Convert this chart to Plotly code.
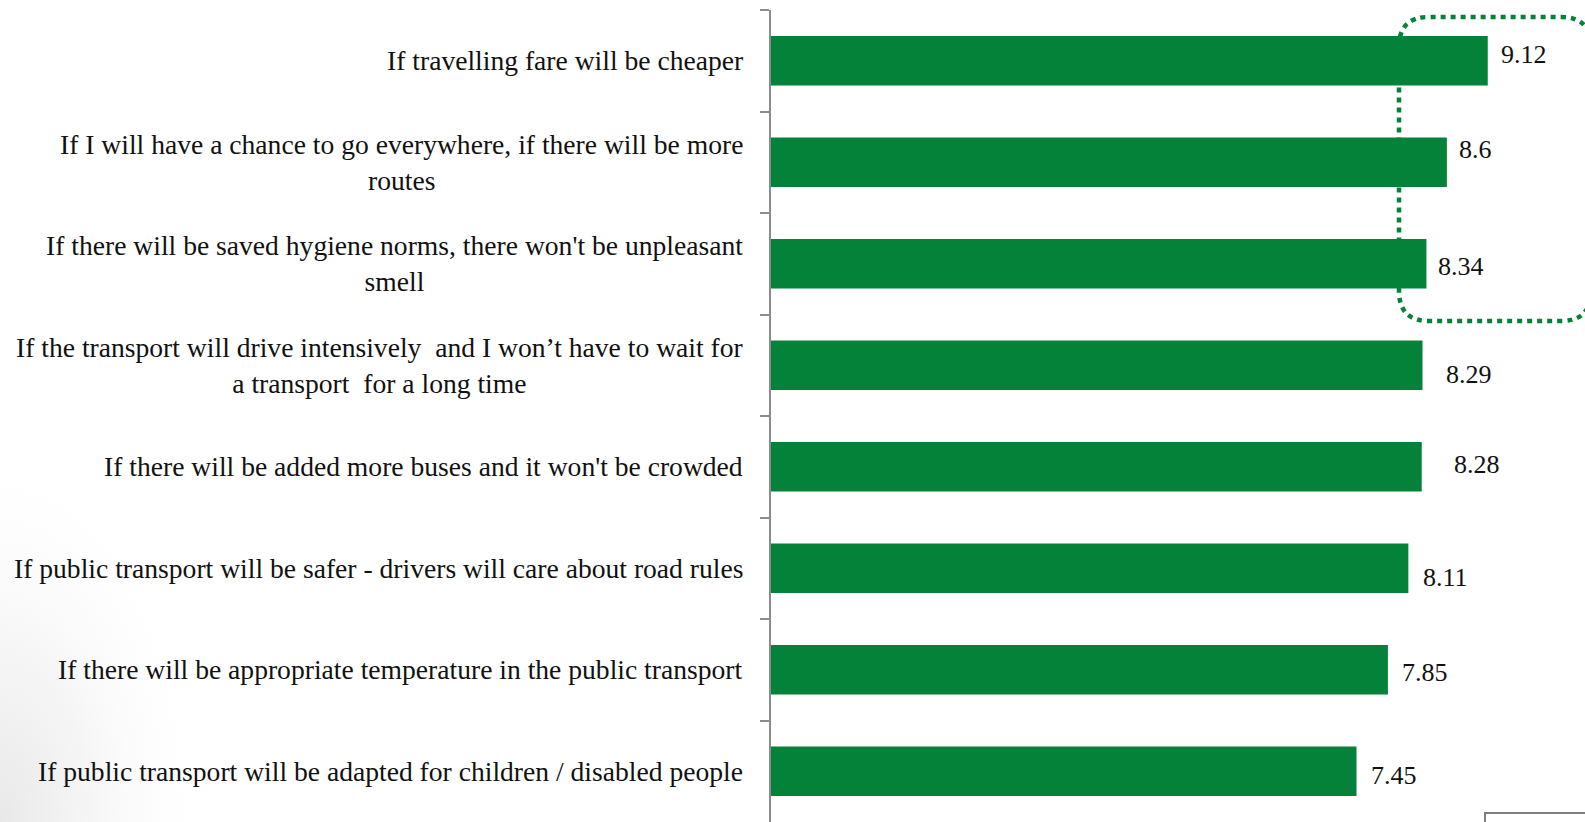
import base64
import plotly.graph_objects as go

# ---------------- data ----------------
categories = [
    "If travelling fare will be cheaper",
    "If I will have a chance to go everywhere, if there will be more<br>routes",
    "If there will be saved hygiene norms, there won't be unpleasant<br>smell",
    "If the transport will drive intensively  and I won’t have to wait for<br>a transport  for a long time",
    "If there will be added more buses and it won't be crowded",
    "If public transport will be safer - drivers will care about road rules",
    "If there will be appropriate temperature in the public transport",
    "If public transport will be adapted for children / disabled people",
]
values = [9.12, 8.6, 8.34, 8.29, 8.28, 8.11, 7.85, 7.45]
value_labels = ["9.12", "8.6", "8.34", "8.29", "8.28", "8.11", "7.85", "7.45"]

# ---------------- style ----------------
W, H = 1585, 822
ML, MR, MT, MB = 771, 0, 10, 0
PW, PH = W - ML - MR, H - MT - MB
GREEN = "#048239"
AXIS_GRAY = "#8c8c8c"
FONT = "Liberation Serif"
PX_PER_UNIT = 78.59
XMAX = PW / PX_PER_UNIT
# manual label nudges (pixels) as in the original slide
label_dx = [11, 10, 10, 21, 30, 13, 12, 12]
label_dy = [6, 13, -3, -9, 2, -9, -3, -4]


def px(x):
    return (x - ML) / PW


def py(y):
    return (H - MB - y) / PH


fig = go.Figure()
fig.add_trace(go.Bar(
    x=values, y=categories, orientation="h",
    marker=dict(color=GREEN, line=dict(width=0)),
    hoverinfo="x+y",
))

annotations = []
for cat, v, lab, dx, dy in zip(categories, values, value_labels, label_dx, label_dy):
    annotations.append(dict(
        x=v, y=cat, xref="x", yref="y", text=lab, showarrow=False,
        xanchor="left", yanchor="middle", xshift=dx, yshift=dy,
        font=dict(family=FONT, size=26, color="#111111"),
    ))
    annotations.append(dict(
        x=0, y=cat, xref="paper", yref="y", text=cat, showarrow=False,
        xanchor="right", yanchor="middle", align="center", xshift=-26,
        font=dict(family=FONT, size=27.6, color="#111111"),
    ))

# rounded dotted highlight around top three values
L, T, R, B, r = 1399, 17, 1591, 321, 30
path = (
    f"M {px(L)},{py(T + r)} Q {px(L)},{py(T)} {px(L + r)},{py(T)} "
    f"L {px(R - r)},{py(T)} Q {px(R)},{py(T)} {px(R)},{py(T + r)} "
    f"L {px(R)},{py(B - r)} Q {px(R)},{py(B)} {px(R - r)},{py(B)} "
    f"L {px(L + r)},{py(B)} Q {px(L)},{py(B)} {px(L)},{py(B - r)} Z"
)
shapes = [
    dict(type="path", path=path, xref="paper", yref="paper", layer="below",
         line=dict(color=GREEN, width=4.5, dash="5px,5px")),
    dict(type="rect", xref="paper", yref="paper",
         x0=px(1485), x1=px(1620), y0=py(813), y1=py(850),
         line=dict(color="#7f7f7f", width=2), layer="above"),
]

# soft grey shading at lower-left of the slide
svg = (
    '<svg xmlns="http://www.w3.org/2000/svg" width="260" height="480">'
    '<defs><radialGradient id="g" cx="0" cy="1" r="1">'
    '<stop offset="0" stop-color="#e8e8e8" stop-opacity="1"/>'
    '<stop offset="0.35" stop-color="#f1f1f1" stop-opacity="0.7"/>'
    '<stop offset="0.8" stop-color="#ffffff" stop-opacity="0"/>'
    '</radialGradient></defs>'
    '<rect width="260" height="480" fill="url(#g)"/></svg>'
)
img_src = "data:image/svg+xml;base64," + base64.b64encode(svg.encode()).decode()

fig.update_layout(
    width=W, height=H,
    margin=dict(l=ML, r=MR, t=MT, b=MB, pad=0),
    paper_bgcolor="white", plot_bgcolor="rgba(0,0,0,0)",
    showlegend=False,
    bargap=0.51,
    font=dict(family=FONT, color="#111111"),
    xaxis=dict(range=[0, XMAX], visible=False, fixedrange=True),
    yaxis=dict(
        type="category", categoryorder="array", categoryarray=categories,
        autorange="reversed", showticklabels=False, fixedrange=True,
        showline=True, linecolor=AXIS_GRAY, linewidth=2,
        ticks="outside", tickson="boundaries", ticklen=9,
        tickcolor=AXIS_GRAY, tickwidth=2, showgrid=False, zeroline=False,
    ),
    annotations=annotations,
    shapes=shapes,
    images=[dict(source=img_src, xref="paper", yref="paper",
                 x=px(0), y=py(342), sizex=px(260) - px(0), sizey=py(342) - py(822),
                 xanchor="left", yanchor="top", sizing="stretch", layer="below")],
)

fig.write_html(
    "out.html",
    config={"displayModeBar": False},
    post_script="document.body.style.margin='0';document.body.style.overflow='hidden';",
)
